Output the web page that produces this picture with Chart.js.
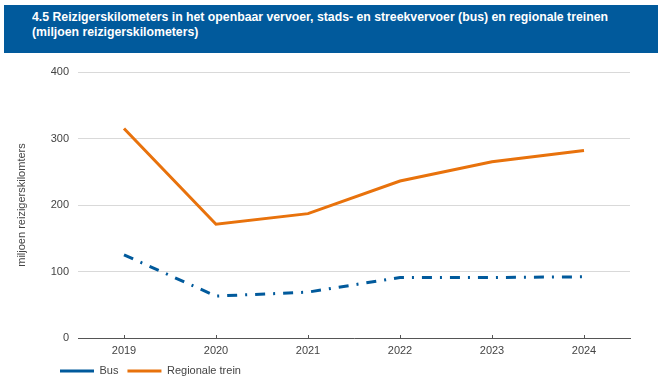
<!DOCTYPE html>
<html>
<head>
<meta charset="utf-8">
<script src="https://cdn.jsdelivr.net/npm/chart.js@4"></script>
<style>
  html, body { margin: 0; padding: 0; background: #fff; width: 662px; height: 383px; overflow: hidden; }
  #banner { position: absolute; left: 4px; top: 5px; width: 654px; height: 48px; background: #015a9c; }
  .tl { position: absolute; left: 32px; color: #fff; font: bold 12px "Liberation Sans", Arial, sans-serif; white-space: nowrap; transform-origin: 0 0; }
  #t1 { top: 10px; }
  #t2 { top: 25px; }
  #c { position: absolute; left: 0; top: 0; }
</style>
</head>
<body>
<canvas id="c" width="662" height="383"></canvas>
<div id="banner"></div>
<div class="tl" id="t1">4.5 Reizigerskilometers in het openbaar vervoer, stads- en streekvervoer (bus) en regionale treinen</div>
<div class="tl" id="t2">(miljoen reizigerskilometers)</div>
<script>
const categories = ['2019', '2020', '2021', '2022', '2023', '2024'];
const busValues = [125, 63, 69, 91, 91, 92];
const trainValues = [315, 171, 187, 236, 265, 282];
const seriesNames = ['Bus', 'Regionale trein'];
const yTitle = 'miljoen reizigerskilomters';
const yMin = 0, yMax = 400, yStep = 100;

// fit title width to reference
const t1 = document.getElementById('t1'), t2 = document.getElementById('t2');
const s = 576 / t1.getBoundingClientRect().width;
t1.style.transform = 'scaleX(' + s + ')';
t2.style.transform = 'scaleX(' + s + ')';

const FONT = '"Liberation Sans", Arial, sans-serif';
const legendShift = {
  id: 'legendShift',
  afterLayout(chart) {
    if (chart.legend) { chart.legend.left += 51; chart.legend.right += 51; }
  }
};

new Chart(document.getElementById('c'), {
  type: 'line',
  data: {
    labels: categories,
    datasets: [
      { label: seriesNames[0], data: busValues, borderColor: '#015a9c', backgroundColor: '#015a9c',
        borderWidth: 3, borderDash: [10, 8, 2, 8], pointRadius: 0, tension: 0, fill: false },
      { label: seriesNames[1], data: trainValues, borderColor: '#e8720c', backgroundColor: '#e8720c',
        borderWidth: 3, pointRadius: 0, tension: 0, fill: false }
    ]
  },
  options: {
    responsive: false,
    animation: false,
    devicePixelRatio: 1,
    layout: { padding: { left: 0, top: 72, right: 32, bottom: -3.5 } },
    plugins: {
      legend: {
        position: 'bottom',
        align: 'start',
        labels: {
          usePointStyle: true,
          pointStyle: 'line',
          pointStyleWidth: 34,
          padding: 9,
          color: '#444',
          font: { family: FONT, size: 11 }
        }
      },
      tooltip: { enabled: false },
      title: { display: false }
    },
    scales: {
      x: {
        offset: true,
        afterFit(scale) { scale.height = 18.5; },
        grid: { display: true, drawOnChartArea: false, drawTicks: true, tickLength: -3, color: '#555' },
        border: { display: true, color: '#555', width: 1 },
        ticks: { color: '#444', padding: 9, font: { family: FONT, size: 11 }, maxRotation: 0 }
      },
      y: {
        min: yMin, max: yMax,
        afterFit(scale) { scale.width = 78; },
        ticks: { stepSize: yStep, color: '#444', padding: 9, font: { family: FONT, size: 11 } },
        grid: { color: '#d9d9d9', drawTicks: false },
        border: { display: false },
        title: { display: true, text: yTitle, color: '#444', font: { family: FONT, size: 11 }, padding: { top: 15, bottom: 13.5 } }
      }
    }
  },
  plugins: [legendShift]
});
</script>
</body>
</html>
